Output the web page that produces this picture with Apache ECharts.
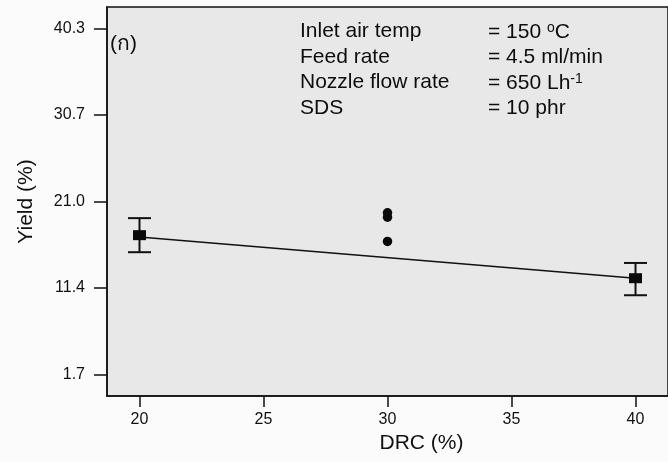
<!DOCTYPE html>
<html>
<head>
<meta charset="utf-8">
<script src="https://cdn.jsdelivr.net/npm/echarts@6/dist/echarts.min.js"></script>
<style>
html,body{margin:0;padding:0;background:#fbfbfb;}
#c{width:668px;height:462px;}
</style>
</head>
<body>
<div id="c"></div>
<script>
const xTicks = [20, 25, 30, 35, 40];
const yTicks = [1.7, 11.4, 21.0, 30.7, 40.3];
const meanX = [20, 40];
const meanY = [17.3, 12.5];
const errLow = [15.4, 10.6];
const errHigh = [19.2, 14.2];
const singleX = [30, 30, 30];
const singleY = [19.8, 19.3, 16.6];
const fitX = [20, 40];
const fitY = [17.1, 12.5];
const noteNames = ['Inlet air temp', 'Feed rate', 'Nozzle flow rate', 'SDS'];
const noteValues = ['= 150 {sup|o}C', '= 4.5 ml/min', '= 650 Lh{sup|-1}', '= 10 phr'];
const panelLabel = '(ก)';

const font = '"Liberation Sans", Arial, sans-serif';
const chart = echarts.init(document.getElementById('c'), null, {renderer: 'canvas'});

const noteGraphics = [];
noteNames.forEach((n, i) => {
  const y = 33 + i * 25.5;
  noteGraphics.push({type: 'text', left: 300, top: y - 12, style: {text: n, font: '21px ' + font, fill: '#0d0d0d'}});
  noteGraphics.push({type: 'text', left: 488, top: y - 12, style: {
    text: noteValues[i], font: '21px ' + font, fill: '#0d0d0d',
    rich: {sup: {fontSize: 14, fontFamily: 'Liberation Sans', verticalAlign: 'top', fill: '#0d0d0d', padding: [0, 0, 8, 0]}}
  }});
});

chart.setOption({
  animation: false,
  backgroundColor: '#fbfbfb',
  grid: {left: 107, top: 7, bottom: 66, right: -8, show: true, backgroundColor: '#e8e8e8', borderColor: '#111', borderWidth: 1.5},
  xAxis: {
    type: 'value', min: 18.69, max: 41.31,
    name: 'DRC (%)', nameLocation: 'middle', nameGap: 37,
    nameTextStyle: {fontFamily: font, fontSize: 21, color: '#111', padding: [0, 0, 0, 68]},
    axisLine: {show: true, onZero: false, lineStyle: {color: '#111', width: 1.5}},
    splitLine: {show: false},
    axisTick: {show: true, length: 11, customValues: xTicks, lineStyle: {color: '#111', width: 1.5}},
    axisLabel: {customValues: xTicks, margin: 16, fontFamily: font, fontSize: 16, color: '#111'}
  },
  yAxis: {
    type: 'value', min: -0.64, max: 42.75,
    name: 'Yield (%)', nameLocation: 'middle', nameGap: 70, nameRotate: 90,
    nameTextStyle: {fontFamily: font, fontSize: 21, color: '#111'},
    axisLine: {show: true, onZero: false, lineStyle: {color: '#111', width: 1.5}},
    splitLine: {show: false},
    axisTick: {show: true, length: 13, customValues: yTicks, lineStyle: {color: '#111', width: 1.5}},
    axisLabel: {customValues: yTicks, margin: 22, fontFamily: font, fontSize: 16, color: '#111',
      formatter: v => v.toFixed(1)}
  },
  graphic: [
    {type: 'text', left: 110, top: 34, style: {text: panelLabel, font: '21px ' + font + ', "Noto Sans", "DejaVu Sans"', fill: '#0d0d0d'}}
  ].concat(noteGraphics),
  series: [
    {
      type: 'line', data: fitX.map((x, i) => [x, fitY[i]]), symbol: 'none',
      lineStyle: {color: '#111', width: 1.5}, z: 2
    },
    {
      type: 'custom', z: 3,
      data: meanX.map((x, i) => [x, errLow[i], errHigh[i]]),
      renderItem: function (params, api) {
        const x = api.value(0);
        const pLo = api.coord([x, api.value(1)]);
        const pHi = api.coord([x, api.value(2)]);
        const hw = 11.5;
        const st = {stroke: '#111', lineWidth: 2};
        return {type: 'group', children: [
          {type: 'line', shape: {x1: pLo[0], y1: pLo[1], x2: pHi[0], y2: pHi[1]}, style: st},
          {type: 'line', shape: {x1: pLo[0] - hw, y1: pLo[1], x2: pLo[0] + hw, y2: pLo[1]}, style: st},
          {type: 'line', shape: {x1: pHi[0] - hw, y1: pHi[1], x2: pHi[0] + hw, y2: pHi[1]}, style: st}
        ]};
      }
    },
    {
      type: 'scatter', z: 4, symbol: 'rect', symbolSize: [13, 10],
      data: meanX.map((x, i) => [x, meanY[i]]),
      itemStyle: {color: '#0a0a0a', opacity: 1}
    },
    {
      type: 'scatter', z: 4, symbol: 'circle', symbolSize: 9.5,
      data: singleX.map((x, i) => [x, singleY[i]]),
      itemStyle: {color: '#0a0a0a', opacity: 1}
    }
  ]
});
</script>
</body>
</html>
